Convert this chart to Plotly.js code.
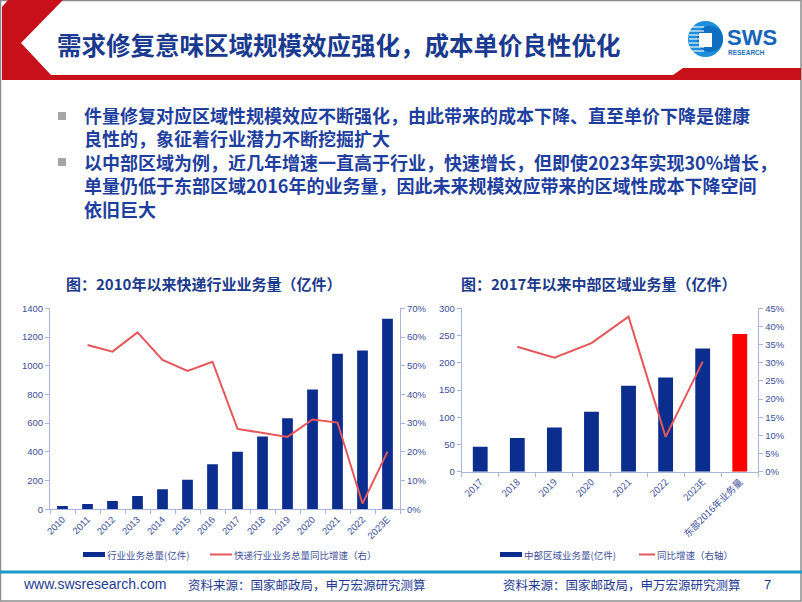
<!DOCTYPE html>
<html>
<head>
<meta charset="utf-8">
<script src="https://cdn.plot.ly/plotly-3.0.1.min.js"></script>
<style>html,body{margin:0;padding:0;background:#fff;}#chart{width:802px;height:602px;}</style>
</head>
<body>
<div id="chart"></div>
<script>
// ---------- DATA ----------
const years1 = ['2010','2011','2012','2013','2014','2015','2016','2017','2018','2019','2020','2021','2022','2023E'];
const industryVolume = [23, 37, 57, 92, 139, 206, 313, 401, 507, 635, 834, 1083, 1106, 1328];
const industryGrowth = [null, 0.572, 0.549, 0.616, 0.520, 0.482, 0.514, 0.280, 0.267, 0.252, 0.313, 0.302, 0.020, 0.201];

const cats2 = ['2017','2018','2019','2020','2021','2022','2023E','东部2016年业务量'];
const centralVolume = [46, 62, 81, 110, 158, 173, 226];
const east2016Volume = [253];
const centralGrowth = [null, 0.344, 0.314, 0.354, 0.427, 0.096, 0.303];

const headerTitle = '需求修复意味区域规模效应强化，成本单价良性优化';
const bulletLines = [
  '件量修复对应区域性规模效应不断强化，由此带来的成本下降、直至单价下降是健康',
  '良性的，象征着行业潜力不断挖掘扩大',
  '以中部区域为例，近几年增速一直高于行业，快速增长，但即使2023年实现30%增长，',
  '单量仍低于东部区域2016年的业务量，因此未来规模效应带来的区域性成本下降空间',
  '依旧巨大'
];
const chartTitle1 = '图：2010年以来快递行业业务量（亿件）';
const chartTitle2 = '图：2017年以来中部区域业务量（亿件）';
const legend1 = ['行业业务总量(亿件)', '快递行业业务总量同比增速（右）'];
const legend2 = ['中部区域业务量(亿件)', '同比增速（右轴）'];
const sourceText = '资料来源：国家邮政局，申万宏源研究测算';
const siteText = 'www.swsresearch.com';
const pageNo = '7';

// ---------- HELPERS ----------
const W = 802, H = 602;
const px = x => x / W;
const py = y => 1 - y / H;
const CJK = '"Noto Sans CJK SC", "Noto Sans", sans-serif';
const LAT = '"Liberation Sans", Arial, sans-serif';
const NAVY = '#0B2D8E';
const CORAL = '#E5575B';
const AXC = '#A9B5DD';
const TICKC = '#3D4E9C';

function pathPx(pts) {
  return 'M ' + pts.map(p => px(p[0]).toFixed(5) + ',' + py(p[1]).toFixed(5)).join(' L ') + ' Z';
}

// ---------- TRACES ----------
const traces = [
  {type:'bar', x: years1, y: industryVolume, xaxis:'x', yaxis:'y', marker:{color:NAVY}, width:0.43},
  {type:'scatter', mode:'lines', x: years1, y: industryGrowth, xaxis:'x', yaxis:'y2', line:{color:CORAL, width:2}},
  {type:'bar', x: cats2.slice(0,7), y: centralVolume, xaxis:'x3', yaxis:'y3', marker:{color:NAVY}, width:0.4},
  {type:'bar', x: cats2.slice(7), y: east2016Volume, xaxis:'x3', yaxis:'y3', marker:{color:'#FF0000'}, width:0.4},
  {type:'scatter', mode:'lines', x: cats2.slice(0,7), y: centralGrowth, xaxis:'x3', yaxis:'y4', line:{color:CORAL, width:2}}
];

const tickFont = {family: LAT, size: 9.5, color: TICKC};
const xCommon = {type:'category', tickangle:-45, tickson:'boundaries', ticks:'outside', ticklen:4,
  tickcolor:AXC, showline:true, linecolor:AXC, linewidth:1, showgrid:false, zeroline:false, tickfont:tickFont, fixedrange:true};
const yCommon = {ticks:'outside', ticklen:4, tickcolor:AXC, showline:true, linecolor:AXC, linewidth:1,
  showgrid:false, zeroline:false, tickfont:tickFont, fixedrange:true};

// ---------- SHAPES ----------
const shapes = [];
shapes.push({type:'rect', xref:'paper', yref:'paper', x0:px(0.5), x1:px(801), y0:py(601), y1:py(0.5), line:{color:'#8C8C8C', width:1.5}, fillcolor:'rgba(0,0,0,0)'});
shapes.push({type:'path', xref:'paper', yref:'paper', path: pathPx([[2,7],[8,0],[63,0],[21,43],[51,75],[673,75],[683,68],[801,68],[801,80],[2,80]]), fillcolor:'#C8101A', line:{width:0}});
shapes.push({type:'circle', xref:'paper', yref:'paper', x0:px(688), x1:px(723), y0:py(57), y1:py(21), fillcolor:'#1E8FDA', line:{width:0}});
shapes.push({type:'circle', xref:'paper', yref:'paper', x0:px(697), x1:px(723), y0:py(52), y1:py(26), fillcolor:'#0E6FC2', line:{width:0}});
[27,31,35,39,43,47,51].forEach(y => {
  shapes.push({type:'line', xref:'paper', yref:'paper', x0:px(689), x1:px(704), y0:py(y), y1:py(y), line:{color:'rgba(255,255,255,0.85)', width:1.3}});
});
shapes.push({type:'rect', xref:'paper', yref:'paper', x0:px(699), x1:px(712), y0:py(47), y1:py(33), fillcolor:'#FFFFFF', line:{width:0}});
shapes.push({type:'rect', xref:'paper', yref:'paper', x0:px(58), x1:px(66), y0:py(120), y1:py(112), fillcolor:'#A6A6A6', line:{width:0}});
shapes.push({type:'rect', xref:'paper', yref:'paper', x0:px(58), x1:px(66), y0:py(166), y1:py(158), fillcolor:'#A6A6A6', line:{width:0}});
shapes.push({type:'rect', xref:'paper', yref:'paper', x0:px(83), x1:px(105), y0:py(557), y1:py(552), fillcolor:NAVY, line:{width:0}});
shapes.push({type:'line', xref:'paper', yref:'paper', x0:px(210), x1:px(232), y0:py(554.5), y1:py(554.5), line:{color:CORAL, width:2}});
shapes.push({type:'rect', xref:'paper', yref:'paper', x0:px(500), x1:px(522), y0:py(557), y1:py(552), fillcolor:NAVY, line:{width:0}});
shapes.push({type:'line', xref:'paper', yref:'paper', x0:px(639), x1:px(655), y0:py(554.5), y1:py(554.5), line:{color:CORAL, width:2}});
shapes.push({type:'line', xref:'paper', yref:'paper', x0:px(0), x1:px(802), y0:py(572), y1:py(572), line:{color:'#1E9ACB', width:3}});

// ---------- ANNOTATIONS ----------
const ann = [];
function txt(text, x, y, size, color, family, xanchor, bold, yanchor) {
  ann.push({xref:'paper', yref:'paper', x:px(x), y:py(y), xanchor:xanchor||'left', yanchor:yanchor||'middle', showarrow:false,
    borderpad:0, align:'left',
    text: bold ? '<b>' + text + '</b>' : text, font:{family: family||CJK, size:size, color:color}});
}
txt(headerTitle, 56, 45, 24.5, '#1A3A8F', CJK, 'left', true);
txt('SWS', 726, 38, 22, '#1464B8', LAT, 'left', true);
txt('RESEARCH', 727, 53, 6.5, '#1E6FC0', LAT, 'left', true);
txt(bulletLines.join('<br>'), 83, 162, 18, '#1F3F9F', CJK, 'left', true, 'middle');
txt(chartTitle1, 203, 283, 15, '#1B3A8C', CJK, 'center', true);
txt(chartTitle2, 598, 283, 15, '#1B3A8C', CJK, 'center', true);
txt(legend1[0], 106, 555, 9.5, '#3E4F9B', CJK, 'left');
txt(legend1[1], 233, 555, 9.5, '#3E4F9B', CJK, 'left');
txt(legend2[0], 523, 555, 9.5, '#3E4F9B', CJK, 'left');
txt(legend2[1], 656, 555, 9.5, '#3E4F9B', CJK, 'left');
txt(siteText, 22, 584, 14, '#1F3A93', LAT, 'left');
txt(sourceText, 187, 584, 12.5, '#1F3A93', CJK, 'left');
txt(sourceText, 502, 584, 12.5, '#1F3A93', CJK, 'left');
txt(pageNo, 763, 584, 13, '#1F3A93', LAT, 'left');

// ---------- LAYOUT ----------
const layout = {
  width: W, height: H,
  margin: {l:0, r:0, t:0, b:0},
  paper_bgcolor:'#FFFFFF', plot_bgcolor:'rgba(0,0,0,0)',
  showlegend:false, barmode:'overlay', hovermode:false,
  xaxis: Object.assign({}, xCommon, {domain:[px(50), px(400)], anchor:'y', categoryorder:'array', categoryarray: years1}),
  yaxis: Object.assign({}, yCommon, {domain:[py(509.3), py(308.3)], anchor:'x', range:[0,1400], dtick:200}),
  yaxis2: Object.assign({}, yCommon, {overlaying:'y', side:'right', anchor:'x', range:[0,0.7], dtick:0.1, tickformat:'.0%'}),
  xaxis3: Object.assign({}, xCommon, {domain:[px(461.7), px(758.3)], anchor:'y3', categoryorder:'array', categoryarray: cats2, tickfont:{family:CJK, size:9.5, color:TICKC}}),
  yaxis3: Object.assign({}, yCommon, {domain:[py(471.7), py(308.3)], anchor:'x3', range:[0,300], dtick:50}),
  yaxis4: Object.assign({}, yCommon, {overlaying:'y3', side:'right', anchor:'x3', range:[0,0.45], dtick:0.05, tickformat:'.0%'}),
  shapes: shapes,
  annotations: ann
};

Plotly.newPlot('chart', traces, layout, {staticPlot:true, displayModeBar:false});
</script>
</body>
</html>
